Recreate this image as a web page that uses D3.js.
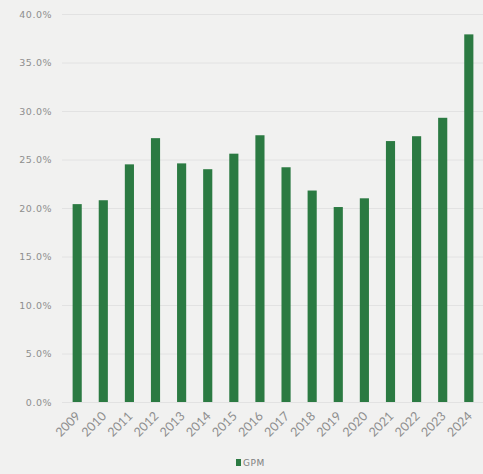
<!DOCTYPE html>
<html>
<head>
<meta charset="utf-8">
<script src="https://cdn.jsdelivr.net/npm/d3@7"></script>
<style>
  body { margin: 0; background: #f1f1f0; }
  svg { display: block; }
  .tick text { fill: #8e8e8e; }
</style>
</head>
<body>
<div id="chart"></div>
<script>
var width = 483,
    height = 474;

var years = ["2009","2010","2011","2012","2013","2014","2015","2016",
             "2017","2018","2019","2020","2021","2022","2023","2024"];
var gpm = [20.4, 20.8, 24.5, 27.2, 24.6, 24.0, 25.6, 27.5,
           24.2, 21.8, 20.1, 21.0, 26.9, 27.4, 29.3, 37.9];
var yTicks = [0, 5, 10, 15, 20, 25, 30, 35, 40];
var seriesName = "GPM";
var barColor = "#2b7a42";

var svg = d3.select("#chart").append("svg")
  .attr("width", width)
  .attr("height", height);

var x = d3.scaleBand()
  .domain(years)
  .range([64, 482])
  .paddingInner(0.65)
  .paddingOuter(0.33);

var y = d3.scaleLinear()
  .domain([0, 40])
  .range([402, 14]);

// gridlines + y labels
var yAxis = svg.append("g")
  .attr("transform", "translate(62,0)")
  .call(d3.axisLeft(y).tickValues(yTicks)
    .tickFormat(function(d) { return d3.format(".1f")(d) + "%"; })
    .tickSize(-421).tickPadding(10));
yAxis.select(".domain").remove();
yAxis.selectAll(".tick line").attr("stroke", "#e2e2e2").attr("stroke-width", 1);
yAxis.selectAll(".tick text")
  .style("font-family", "DejaVu Sans, sans-serif")
  .style("font-size", "9.5px")
  .style("letter-spacing", "0.5px");

// bars
svg.append("g").selectAll("rect")
  .data(years)
  .enter().append("rect")
  .attr("x", function(d) { return x(d); })
  .attr("y", function(d, i) { return y(gpm[i]); })
  .attr("width", x.bandwidth())
  .attr("height", function(d, i) { return y(0) - y(gpm[i]); })
  .attr("fill", barColor);

// x labels, rotated -45 (x/y given in the rotated frame)
var xAxis = svg.append("g")
  .attr("transform", "translate(0,402)")
  .call(d3.axisBottom(x).tickSize(0));
xAxis.select(".domain").remove();
xAxis.selectAll(".tick text")
  .style("font-family", "Lato, sans-serif")
  .style("font-size", "12.5px")
  .attr("text-anchor", "end")
  .attr("x", -7.8)
  .attr("y", 13.4)
  .attr("dy", 0)
  .attr("transform", "rotate(-45)");

// legend
var legend = svg.append("g").attr("transform", "translate(236,459)");
legend.append("rect")
  .attr("width", 5).attr("height", 7)
  .attr("fill", barColor);
legend.append("text")
  .attr("x", 7).attr("y", 7)
  .style("font-family", "DejaVu Sans, sans-serif")
  .style("font-size", "9px")
  .style("letter-spacing", "0.6px")
  .attr("fill", "#808080")
  .text(seriesName);
</script>
</body>
</html>
